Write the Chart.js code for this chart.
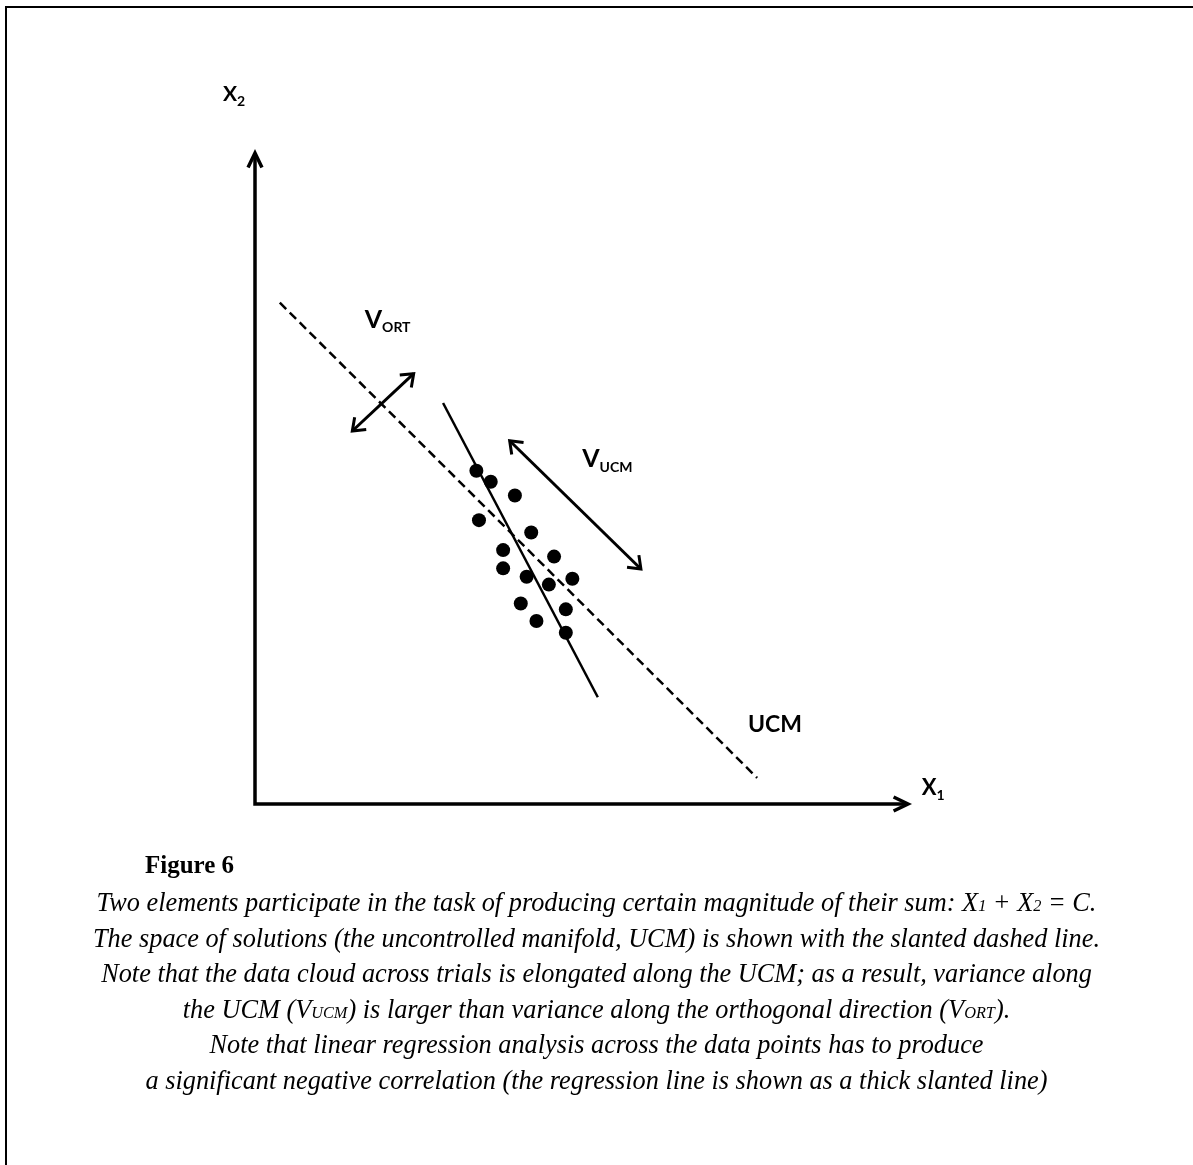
<!DOCTYPE html>
<html>
<head>
<meta charset="utf-8">
<script src="https://cdn.jsdelivr.net/npm/chart.js@4.4.0/dist/chart.umd.min.js"></script>
<style>
  html, body { margin: 0; padding: 0; background: #fff; }
  body { width: 1193px; height: 1165px; position: relative; overflow: hidden; }
  #frame { position: absolute; left: 5px; top: 6px; width: 1300px; height: 1300px;
           border-left: 2px solid #000; border-top: 2px solid #000; }
  #chart { position: absolute; left: 0; top: 0; }
  .fig { position: absolute; left: 145px; top: 852px; font: bold 25px "Liberation Serif", serif; line-height: 25px; }
  .cap { position: absolute; left: 0; width: 1193px; top: 885px; text-align: center;
         font: italic 26.3px "Liberation Serif", serif; line-height: 35.6px; }
  .cap div { height: 35.6px; }
  .sm { font-size: 0.62em; }
</style>
</head>
<body>
<div id="frame"></div>
<canvas id="chart" width="1193" height="1165"></canvas>
<div class="fig">Figure 6</div>
<div class="cap">
  <div>Two elements participate in the task of producing certain magnitude of their sum: X<span class="sm">1</span> + X<span class="sm">2</span> = C.</div>
  <div>The space of solutions (the uncontrolled manifold, UCM) is shown with the slanted dashed line.</div>
  <div>Note that the data cloud across trials is elongated along the UCM; as a result, variance along</div>
  <div>the UCM (V<span class="sm">UCM</span>) is larger than variance along the orthogonal direction (V<span class="sm">ORT</span>).</div>
  <div>Note that linear regression analysis across the data points has to produce</div>
  <div>a significant negative correlation (the regression line is shown as a thick slanted line)</div>
</div>
<script>
// trial data points (X1, X2)
const dotX = [33.9, 36.1, 39.8, 34.3, 42.3, 38.0, 45.8, 38.0, 41.6, 48.6, 45.0, 40.7, 47.6, 43.1, 47.6];
const dotY = [51.2, 49.5, 47.4, 43.6, 41.7, 39.0, 38.0, 36.2, 34.9, 34.6, 33.7, 30.8, 29.9, 28.1, 26.3];

// UCM (dashed) and regression line end points
const ucmX = [3.8, 76.9];
const ucmY = [77.0, 4.0];
const regX = [28.8, 52.5];
const regY = [61.6, 16.4];

// variance arrows
const ortX = [14.9, 24.3];
const ortY = [57.3, 66.1];
const vucmX = [39.0, 59.1];
const vucmY = [55.8, 36.1];

// axes polyline: top of X2 -> origin -> end of X1
const axisX = [0, 0, 100];
const axisY = [100, 0, 0];

const pts = (xs, ys) => xs.map((v, i) => ({ x: v, y: ys[i] }));

const labels = [
  { main: 'X', sub: '2', x: -4.9, y: 108.0, size: 21, subSize: 14, drop: 5 },
  { main: 'X', sub: '1', x: 102.1, y: 1.4, size: 22, subSize: 14, drop: 5 },
  { main: 'V', sub: 'ORT', x: 16.8, y: 73.1, size: 25, subSize: 14, drop: 4 },
  { main: 'V', sub: 'UCM', x: 50.1, y: 51.8, size: 25, subSize: 14, drop: 5 },
  { main: 'UCM', x: 75.5, y: 11.1, size: 23 }
];

const arrowPlugin = {
  id: 'arrowHeads',
  afterDatasetsDraw(chart) {
    const ctx = chart.ctx;
    chart.data.datasets.forEach((ds, i) => {
      if (!ds.heads) return;
      const el = chart.getDatasetMeta(i).data;
      const draw = (tip, from) => {
        const ang = Math.atan2(tip.y - from.y, tip.x - from.x);
        ctx.beginPath();
        ctx.moveTo(tip.x - ds.headLen * Math.cos(ang - ds.headAng), tip.y - ds.headLen * Math.sin(ang - ds.headAng));
        ctx.lineTo(tip.x, tip.y);
        ctx.lineTo(tip.x - ds.headLen * Math.cos(ang + ds.headAng), tip.y - ds.headLen * Math.sin(ang + ds.headAng));
        ctx.stroke();
      };
      ctx.save();
      ctx.strokeStyle = '#000';
      ctx.lineWidth = ds.borderWidth;
      ctx.lineJoin = 'miter';
      draw(el[el.length - 1], el[el.length - 2]);
      if (ds.heads === 'both') draw(el[0], el[1]);
      ctx.restore();
    });
  }
};

const labelPlugin = {
  id: 'textLabels',
  afterDatasetsDraw(chart) {
    const { ctx, scales: { x, y } } = chart;
    ctx.save();
    ctx.fillStyle = '#000';
    ctx.textBaseline = 'alphabetic';
    labels.forEach(l => {
      const px = x.getPixelForValue(l.x), py = y.getPixelForValue(l.y);
      ctx.font = 'bold ' + l.size + 'px Lato';
      ctx.fillText(l.main, px, py);
      if (l.sub) {
        const w = ctx.measureText(l.main).width;
        ctx.font = 'bold ' + l.subSize + 'px Lato';
        ctx.fillText(l.sub, px + w, py + l.drop);
      }
    });
    ctx.restore();
  }
};

new Chart(document.getElementById('chart'), {
  type: 'scatter',
  data: {
    datasets: [
      { data: pts(dotX, dotY), pointRadius: 7, backgroundColor: '#000', borderWidth: 0, clip: false },
      { type: 'line', data: pts(ucmX, ucmY), borderColor: '#000', borderWidth: 2.5, borderDash: [9, 5],
        pointRadius: 0, fill: false, clip: false },
      { type: 'line', data: pts(regX, regY), borderColor: '#000', borderWidth: 2.5,
        pointRadius: 0, fill: false, clip: false },
      { type: 'line', data: pts(ortX, ortY), borderColor: '#000', borderWidth: 3,
        pointRadius: 0, fill: false, clip: false, heads: 'both', headLen: 14, headAng: 0.65 },
      { type: 'line', data: pts(vucmX, vucmY), borderColor: '#000', borderWidth: 3,
        pointRadius: 0, fill: false, clip: false, heads: 'both', headLen: 14, headAng: 0.65 },
      { type: 'line', data: pts(axisX, axisY), borderColor: '#000', borderWidth: 3.5, borderJoinStyle: 'miter',
        pointRadius: 0, fill: false, clip: false, heads: 'both', headLen: 16, headAng: 0.45 }
    ]
  },
  options: {
    responsive: false,
    animation: false,
    layout: { padding: { left: 255, right: 285, top: 153, bottom: 361 } },
    plugins: { legend: { display: false }, tooltip: { enabled: false } },
    scales: {
      x: { type: 'linear', min: 0, max: 100, display: false },
      y: { type: 'linear', min: 0, max: 100, display: false }
    }
  },
  plugins: [arrowPlugin, labelPlugin]
});
</script>
</body>
</html>
